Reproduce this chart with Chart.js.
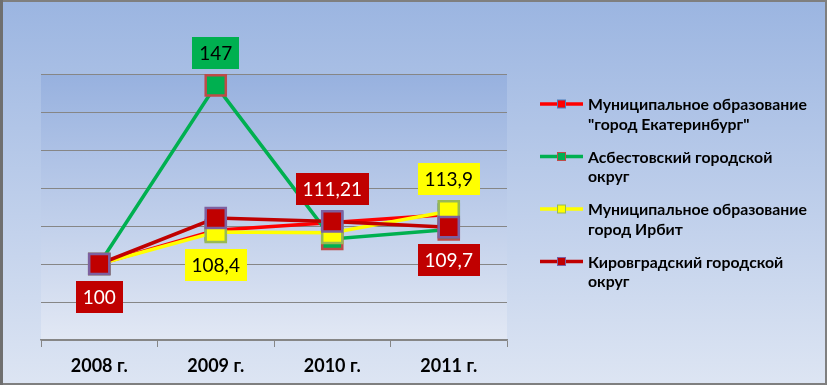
<!DOCTYPE html>
<html><head><meta charset="utf-8">
<script src="https://cdn.jsdelivr.net/npm/chart.js@4"></script>
<style>html,body{margin:0;padding:0;background:#fff}canvas{display:block}</style>
</head><body>
<canvas id="c" width="827" height="385"></canvas>
<script>
// ---- data ----
const categories = ['2008 г.', '2009 г.', '2010 г.', '2011 г.'];
const seriesNames = [
  ['Муниципальное образование', '"город Екатеринбург"'],
  ['Асбестовский городской', 'округ'],
  ['Муниципальное образование', 'город Ирбит'],
  ['Кировградский городской', 'округ']
];
const ekaterinburg = [100, 108.9, 110.9, 113.0];
const asbest = [100, 147, 106.6, 109.1];
const irbit = [100, 108.4, 108.2, 113.9];
const kirovgrad = [100, 112.1, 111.21, 109.7];
const yMin = 80, yMax = 150, yStep = 10;
// points carrying a value label: [series, category, side]
const labeledPoints = [[3,0,'below'],[1,1,'above'],[2,1,'below'],[3,2,'above'],[2,3,'above'],[3,3,'below']];

// ---- styles ----
const lineColors = ['#FF0000', '#00B050', '#FFFF00', '#C00000'];
const markerBorders = ['#4A7EBB', '#BE4B48', '#98B954', '#7D60A0'];
const labelTextColors = ['#FFFFFF', '#000000', '#000000', '#FFFFFF'];
const LABEL_FONT = '19px Lato';
const LEGEND_FONT = 'bold 15.8px Lato';
const AXIS_FONT_FAMILY = 'Lato';

const seriesValues = [ekaterinburg, asbest, irbit, kirovgrad];
const datasets = seriesValues.map((vals, i) => ({
  label: seriesNames[i].join(' '),
  data: vals,
  borderColor: lineColors[i],
  backgroundColor: lineColors[i],
  borderWidth: 3.5,
  pointStyle: 'rect',
  pointRadius: 14.2,
  pointBackgroundColor: lineColors[i],
  pointBorderColor: markerBorders[i],
  pointBorderWidth: 2.5,
  tension: 0,
  clip: false,
  order: 3 - i
}));

const bgPlugin = {
  id: 'bg',
  beforeDraw(chart) {
    const {ctx, width, height, chartArea: a} = chart;
    ctx.save();
    const g = ctx.createLinearGradient(0, 0, 0, height);
    g.addColorStop(0, '#9BB5E1');
    g.addColorStop(1, '#DDE5F3');
    ctx.fillStyle = g;
    ctx.fillRect(0, 0, width, height);
    const g2 = ctx.createLinearGradient(0, a.top, 0, a.bottom);
    g2.addColorStop(0, '#97B1DF');
    g2.addColorStop(1, '#E2E8F4');
    ctx.fillStyle = g2;
    ctx.fillRect(a.left, a.top, a.right - a.left, a.bottom - a.top);
    ctx.strokeStyle = '#7F7F7F';
    ctx.lineWidth = 2;
    ctx.strokeRect(1, 1, width - 2, height - 2);
    ctx.fillStyle = '#6F6F6F';
    ctx.fillRect(0, 0, 3, height);
    ctx.restore();
  }
};

const labelPlugin = {
  id: 'vlabels',
  afterDatasetsDraw(chart) {
    const ctx = chart.ctx;
    ctx.save();
    ctx.font = LABEL_FONT;
    ctx.textAlign = 'center';
    ctx.textBaseline = 'middle';
    labeledPoints.forEach(([s, i, side]) => {
      const el = chart.getDatasetMeta(s).data[i];
      const v = chart.data.datasets[s].data[i];
      const txt = String(v).replace('.', ',');
      const w = ctx.measureText(txt).width + 14;
      const h = 32;
      const cy = el.y + (side === 'above' ? -32.5 : 32.5);
      ctx.fillStyle = lineColors[s];
      ctx.fillRect(Math.round(el.x - w / 2), Math.round(cy - h / 2), Math.round(w), h);
      ctx.fillStyle = labelTextColors[s];
      ctx.fillText(txt, el.x, cy + 1);
    });
    ctx.restore();
  }
};

const legendPlugin = {
  id: 'sideLegend',
  afterDraw(chart) {
    const ctx = chart.ctx;
    const x0 = 540, x1 = 583, tx = 588, y0 = 104, rowGap = 52.5, lineGap = 19.5;
    ctx.save();
    ctx.font = LEGEND_FONT;
    ctx.textAlign = 'left';
    ctx.textBaseline = 'middle';
    chart.data.datasets.forEach((ds, i) => {
      const y = y0 + i * rowGap;
      ctx.strokeStyle = lineColors[i];
      ctx.lineWidth = 3.5;
      ctx.beginPath();
      ctx.moveTo(x0, y);
      ctx.lineTo(x1, y);
      ctx.stroke();
      const m = (x0 + x1) / 2;
      ctx.fillStyle = lineColors[i];
      ctx.fillRect(m - 4, y - 4, 8, 8);
      ctx.strokeStyle = markerBorders[i];
      ctx.lineWidth = 1;
      ctx.strokeRect(m - 4, y - 4, 8, 8);
      ctx.fillStyle = '#000000';
      seriesNames[i].forEach((line, k) => ctx.fillText(line, tx, y + k * lineGap + 1));
    });
    ctx.restore();
  }
};

new Chart(document.getElementById('c'), {
  type: 'line',
  data: { labels: categories, datasets },
  options: {
    responsive: false,
    animation: false,
    devicePixelRatio: 1,
    layout: { padding: { left: 41, right: 320, top: 74, bottom: 0 } },
    plugins: { legend: { display: false }, tooltip: { enabled: false } },
    scales: {
      x: {
        offset: true,
        grid: { display: true, drawOnChartArea: false, drawTicks: true, tickLength: 7, color: '#868686', offset: true },
        border: { display: true, color: '#868686', width: 1.5 },
        ticks: { color: '#000', font: { family: AXIS_FONT_FAMILY, size: 18, weight: 'bold' }, padding: 8, maxRotation: 0 },
        afterFit(s) { s.height = 45; }
      },
      y: {
        min: yMin, max: yMax,
        ticks: { display: false, stepSize: yStep },
        grid: { color: '#868686', drawTicks: false },
        border: { display: false },
        afterFit(s) { s.width = 0; }
      }
    }
  },
  plugins: [bgPlugin, labelPlugin, legendPlugin]
});
</script>
</body></html>
